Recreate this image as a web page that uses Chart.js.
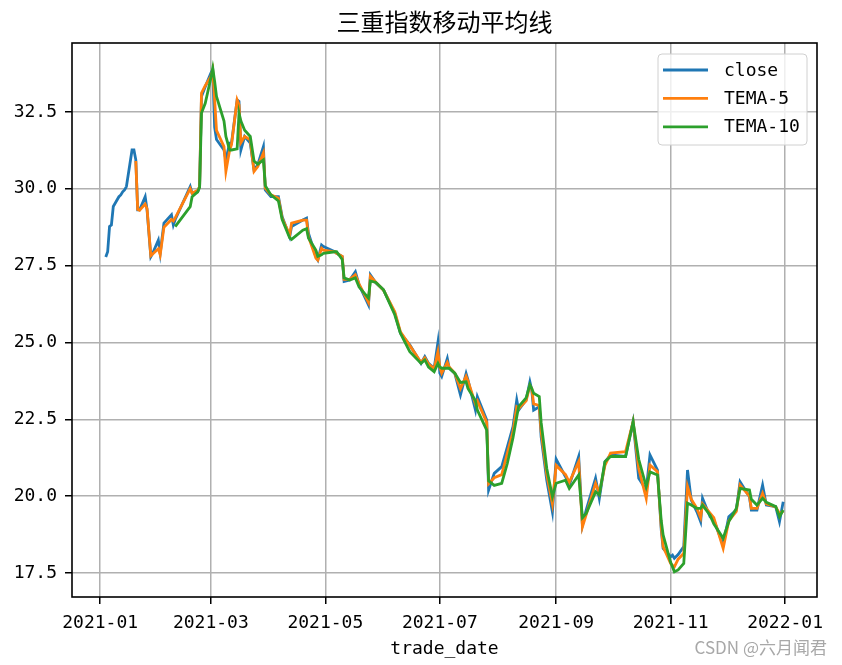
<!DOCTYPE html>
<html>
<head>
<meta charset="utf-8">
<script src="https://cdn.jsdelivr.net/npm/chart.js@4.4.1/dist/chart.umd.min.js"></script>
<style>
  html, body { margin: 0; padding: 0; background: #fff; }
  #tema-chart { display: block; }
</style>
</head>
<body>
<canvas id="tema-chart" width="842" height="665"></canvas>
<script>
const tradeDates = [
    '2021-01-04', '2021-01-05', '2021-01-06', '2021-01-07', '2021-01-08', '2021-01-11', '2021-01-12', '2021-01-13', '2021-01-14', '2021-01-15',
    '2021-01-18', '2021-01-19', '2021-01-20', '2021-01-21', '2021-01-22', '2021-01-25', '2021-01-26', '2021-01-28', '2021-01-29',
    '2021-02-01', '2021-02-02', '2021-02-04', '2021-02-08', '2021-02-09', '2021-02-10', '2021-02-18', '2021-02-19', '2021-02-22', '2021-02-23', '2021-02-24', '2021-02-26',
    '2021-03-01', '2021-03-02', '2021-03-03', '2021-03-04', '2021-03-08', '2021-03-09', '2021-03-11', '2021-03-12', '2021-03-15', '2021-03-16', '2021-03-17', '2021-03-19', '2021-03-22', '2021-03-24', '2021-03-26', '2021-03-29', '2021-03-30',
    '2021-04-02', '2021-04-06', '2021-04-08', '2021-04-12', '2021-04-13', '2021-04-19', '2021-04-21', '2021-04-22', '2021-04-26', '2021-04-27', '2021-04-29', '2021-04-30',
    '2021-05-06', '2021-05-07', '2021-05-10', '2021-05-11', '2021-05-14', '2021-05-17', '2021-05-19', '2021-05-24', '2021-05-25', '2021-05-28',
    '2021-06-01', '2021-06-07', '2021-06-10', '2021-06-15', '2021-06-21', '2021-06-23', '2021-06-25', '2021-06-28', '2021-06-30',
    '2021-07-01', '2021-07-02', '2021-07-05', '2021-07-06', '2021-07-09', '2021-07-12', '2021-07-15', '2021-07-16', '2021-07-20', '2021-07-21', '2021-07-26', '2021-07-27', '2021-07-30',
    '2021-08-03', '2021-08-06', '2021-08-09', '2021-08-11', '2021-08-12', '2021-08-16', '2021-08-18', '2021-08-19', '2021-08-20', '2021-08-23', '2021-08-24', '2021-08-27', '2021-08-30',
    '2021-09-01', '2021-09-06', '2021-09-08', '2021-09-13', '2021-09-15', '2021-09-17', '2021-09-22', '2021-09-24', '2021-09-27', '2021-09-30',
    '2021-10-08', '2021-10-12', '2021-10-15', '2021-10-19', '2021-10-21', '2021-10-25', '2021-10-27', '2021-10-28',
    '2021-11-01', '2021-11-02', '2021-11-03', '2021-11-05', '2021-11-08', '2021-11-10', '2021-11-12', '2021-11-15', '2021-11-17', '2021-11-18', '2021-11-22', '2021-11-24', '2021-11-29',
    '2021-12-02', '2021-12-06', '2021-12-08', '2021-12-13', '2021-12-14', '2021-12-17', '2021-12-20', '2021-12-22', '2021-12-27', '2021-12-29', '2021-12-31'
];

const closeValues = [
    27.78, 27.95, 28.77, 28.82, 29.42, 29.74, 29.80, 29.90, 29.96, 30.07,
    31.26, 31.26, 30.94, 29.31, 29.31, 29.74, 29.31, 27.79, 27.90,
    28.33, 27.90, 28.88, 29.15, 28.82, 29.00, 30.07, 29.85, 29.90, 30.07, 33.00, 33.32,
    33.76, 33.87, 32.00, 31.60, 31.26, 30.94, 31.48, 31.48, 32.89, 32.84, 31.26, 31.70, 31.48, 30.61, 30.78, 31.37, 29.96,
    29.74, 29.74, 29.09, 28.44, 28.77, 28.98, 29.04, 28.55, 27.79, 27.68, 28.17, 28.12,
    27.95, 27.90, 27.79, 26.98, 27.03, 27.30, 26.87, 26.22, 27.20, 26.93,
    26.71, 25.95, 25.30, 24.92, 24.32, 24.54, 24.32, 24.16, 25.00,
    24.00, 23.89, 24.48, 24.16, 23.99, 23.29, 23.99, 23.78, 22.80, 23.24, 22.48, 20.20, 20.74,
    20.96, 21.60, 22.26, 23.13, 22.80, 23.13, 23.72, 23.45, 22.80, 22.91, 21.93, 20.52, 19.49,
    21.20, 20.63, 20.36, 21.29, 19.06, 19.55, 20.58, 19.93, 21.12, 21.34,
    21.29, 22.42, 20.58, 20.20, 21.34, 20.85, 18.90, 18.30,
    18.03, 18.08, 17.98, 18.10, 18.36, 20.85, 19.87, 19.49, 19.17, 19.93, 19.33, 19.22, 18.41,
    19.33, 19.55, 20.47, 19.98, 19.55, 19.55, 20.36, 19.71, 19.66, 19.17, 19.82
];

const tema5Values = [
    null, null, null, null, null, null, null, null, null, null,
    null, null, 30.90, 29.33, 29.30, 29.50, 29.35, 27.82, 27.88,
    28.05, 27.85, 28.75, 29.00, 28.95, 29.05, 30.00, 29.85, 29.95, 30.07, 33.11, 33.35,
    33.65, 33.85, 32.90, 31.90, 31.37, 30.56, 31.26, 31.43, 32.89, 32.73, 31.50, 31.70, 31.59, 30.56, 30.72, 31.16, 30.02,
    29.80, 29.69, 29.04, 28.50, 28.88, 28.98, 28.98, 28.44, 27.74, 27.68, 28.06, 28.00,
    27.95, 27.90, 27.80, 27.05, 27.05, 27.20, 26.90, 26.30, 27.15, 26.95,
    26.70, 26.00, 25.35, 24.90, 24.35, 24.50, 24.30, 24.15, 24.70,
    24.20, 24.00, 24.35, 24.20, 24.00, 23.50, 23.90, 23.75, 23.00, 23.10, 22.40, 20.40, 20.60,
    20.70, 21.40, 22.10, 22.90, 22.85, 23.10, 23.60, 23.50, 23.00, 22.95, 22.10, 20.70, 19.75,
    21.00, 20.70, 20.45, 21.12, 19.00, 19.40, 20.42, 20.10, 21.00, 21.40,
    21.45, 22.42, 20.90, 19.93, 21.01, 20.80, 19.00, 18.36,
    17.81, 17.75, 17.70, 17.95, 18.14, 20.31, 19.90, 19.60, 19.30, 19.75, 19.45, 19.30, 18.30,
    19.20, 19.50, 20.36, 20.00, 19.60, 19.60, 20.09, 19.75, 19.65, 19.44, 19.50
];

const tema10Values = [
    null, null, null, null, null, null, null, null, null, null,
    null, null, null, null, null, null, null, null, null,
    null, null, null, null, null, 28.77, 29.42, 29.74, 29.90, 30.05, 32.46, 32.78,
    33.60, 33.92, 33.50, 33.00, 32.20, 31.70, 31.26, 31.26, 31.30, 32.46, 32.20, 31.90, 31.70, 30.90, 30.80, 30.94, 30.10,
    29.80, 29.60, 29.00, 28.40, 28.35, 28.65, 28.70, 28.40, 28.00, 27.80, 27.85, 27.90,
    27.95, 27.95, 27.70, 27.10, 27.03, 27.10, 26.80, 26.44, 27.00, 26.95,
    26.71, 25.90, 25.30, 24.70, 24.32, 24.43, 24.20, 24.05, 24.32,
    24.20, 24.16, 24.16, 24.16, 24.00, 23.70, 23.72, 23.50, 23.10, 22.80, 22.15, 20.50, 20.35,
    20.42, 21.07, 21.90, 22.58, 22.91, 23.20, 23.62, 23.50, 23.35, 23.24, 22.40, 20.90, 19.98,
    20.42, 20.52, 20.25, 20.69, 19.30, 19.44, 20.14, 20.04, 21.12, 21.29,
    21.29, 22.42, 21.20, 20.31, 20.79, 20.69, 19.20, 18.74,
    17.85, 17.70, 17.54, 17.60, 17.81, 19.77, 19.71, 19.60, 19.60, 19.71, 19.38, 19.10, 18.63,
    19.17, 19.60, 20.25, 20.20, 19.90, 19.71, 19.93, 19.80, 19.66, 19.33, 19.55
];

const seriesNames = ['close', 'TEMA-5', 'TEMA-10'];
const seriesColors = ['#1f77b4', '#ff7f0e', '#2ca02c'];

const xTickDates = ['2021-01-01', '2021-03-01', '2021-05-01', '2021-07-01', '2021-09-01', '2021-11-01', '2022-01-01'];
const xTickLabels = ['2021-01', '2021-03', '2021-05', '2021-07', '2021-09', '2021-11', '2022-01'];
const yTickValues = [17.5, 20.0, 22.5, 25.0, 27.5, 30.0, 32.5];

const chartTitle = '三重指数移动平均线';
const xAxisTitle = 'trade_date';
const watermark = 'CSDN @六月闻君';

const latinFont = '"DejaVu Sans Mono", monospace';
const cjkFont = '"Noto Sans CJK SC", sans-serif';

function dayOf(dateStr) {
    const [y, m, d] = dateStr.split('-').map(Number);
    return (Date.UTC(y, m - 1, d) - Date.UTC(2021, 0, 1)) / 86400000;
}

function toPoints(values) {
    return tradeDates.map((d, i) => ({ x: dayOf(d), y: values[i] }));
}

const decorPlugin = {
    id: 'decor',
    afterDraw(chart) {
        const { ctx, chartArea: a } = chart;
        ctx.save();

        ctx.strokeStyle = '#000';
        ctx.lineWidth = 1.6;
        ctx.strokeRect(a.left, a.top, a.right - a.left, a.bottom - a.top);

        ctx.fillStyle = '#000';
        ctx.font = '24px ' + cjkFont;
        ctx.textAlign = 'center';
        ctx.textBaseline = 'middle';
        ctx.fillText(chartTitle, (a.left + a.right) / 2, 22);

        // legend, upper right like matplotlib
        const box = { x: 658, y: 54, w: 149, h: 91 };
        ctx.beginPath();
        ctx.roundRect(box.x, box.y, box.w, box.h, 4);
        ctx.fillStyle = 'rgba(255,255,255,0.8)';
        ctx.fill();
        ctx.strokeStyle = '#d0d0d0';
        ctx.lineWidth = 1;
        ctx.stroke();

        ctx.font = '18px ' + latinFont;
        ctx.textAlign = 'left';
        chart.data.datasets.forEach((ds, i) => {
            const rowY = 70 + i * 28.4;
            ctx.strokeStyle = ds.borderColor;
            ctx.lineWidth = 2.8;
            ctx.beginPath();
            ctx.moveTo(663, rowY);
            ctx.lineTo(708, rowY);
            ctx.stroke();
            ctx.fillStyle = '#000';
            ctx.fillText(ds.label, 724, rowY + 1);
        });

        ctx.font = '17px ' + cjkFont;
        ctx.fillStyle = '#a8a8a8';
        ctx.textAlign = 'right';
        ctx.fillText(watermark, 827, 648);

        ctx.restore();
    }
};

function createChart() {
    const ctx = document.getElementById('tema-chart').getContext('2d');
    const valueSets = [closeValues, tema5Values, tema10Values];

    const datasets = valueSets.map((values, i) => ({
        label: seriesNames[i],
        data: toPoints(values),
        borderColor: seriesColors[i],
        backgroundColor: seriesColors[i],
        borderWidth: 2.8,
        pointRadius: 0,
        tension: 0,
        fill: false,
        order: valueSets.length - i
    }));

    new Chart(ctx, {
        type: 'line',
        data: { datasets: datasets },
        options: {
            responsive: false,
            animation: false,
            layout: { padding: { top: 43, right: 25, left: 0, bottom: 0 } },
            plugins: {
                legend: { display: false },
                title: { display: false },
                tooltip: { enabled: false }
            },
            scales: {
                x: {
                    type: 'linear',
                    min: -15,
                    max: 382,
                    afterBuildTicks: scale => {
                        scale.ticks = xTickDates.map(d => ({ value: dayOf(d) }));
                    },
                    afterFit: scale => { scale.height = 68; },
                    ticks: {
                        autoSkip: false,
                        maxRotation: 0,
                        padding: 9,
                        color: '#000',
                        font: { family: latinFont, size: 18 },
                        callback: (value, index) => xTickLabels[index]
                    },
                    grid: {
                        color: '#b0b0b0',
                        lineWidth: 1.5,
                        drawTicks: true,
                        tickLength: 7,
                        tickColor: '#000',
                        tickWidth: 1.5
                    },
                    border: { display: false },
                    title: {
                        display: true,
                        text: xAxisTitle,
                        color: '#000',
                        font: { family: latinFont, size: 18 },
                        padding: { top: 0, bottom: 5 }
                    }
                },
                y: {
                    min: 16.72,
                    max: 34.74,
                    afterBuildTicks: scale => {
                        scale.ticks = yTickValues.map(v => ({ value: v }));
                    },
                    afterFit: scale => { scale.width = 72; },
                    ticks: {
                        padding: 8,
                        color: '#000',
                        font: { family: latinFont, size: 18 },
                        callback: value => value.toFixed(1)
                    },
                    grid: {
                        color: '#b0b0b0',
                        lineWidth: 1.5,
                        drawTicks: true,
                        tickLength: 7,
                        tickColor: '#000',
                        tickWidth: 1.5
                    },
                    border: { display: false }
                }
            }
        },
        plugins: [decorPlugin]
    });
}

document.addEventListener('DOMContentLoaded', createChart);
</script>
</body>
</html>
